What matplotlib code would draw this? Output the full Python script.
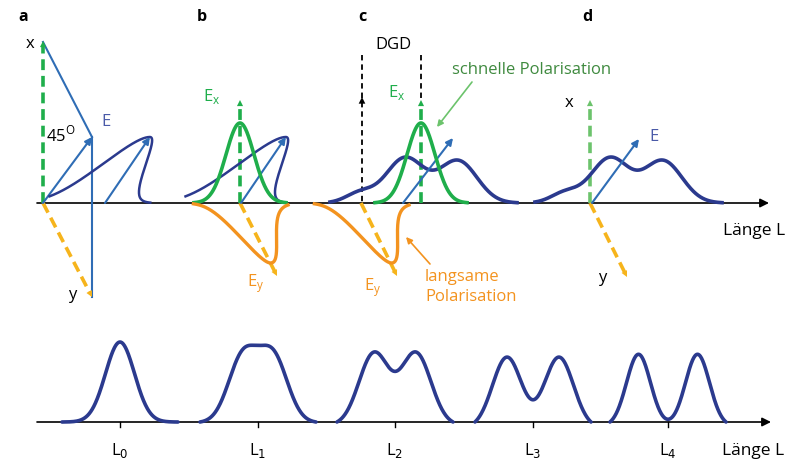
import numpy as np
import matplotlib.pyplot as plt

plt.rcParams['font.family'] = ['Open Sans', 'DejaVu Sans']

NAVY = '#2b3a8e'
BLUE = '#2f6db5'
GREEN = '#1fae4b'
GREEN_LIGHT = '#6cc36c'
ORANGE = '#f3931f'
YELLOW = '#f6b41c'
TEXT_GREEN = '#3f8a3f'

base_top = 203
base_bottom = 422

# bottom row: pulse shape after each fibre length
tick_x = [120, 258, 395, 533, 668]
tick_labels = ['L$_0$', 'L$_1$', 'L$_2$', 'L$_3$', 'L$_4$']
mode_split = [0, 30, 42, 52, 59]
mode_sigma = [14.5, 14.5, 15, 14.5, 12]
mode_amp = [40, 66, 72, 71, 72]

# panels a and b: launched pulse, polarised at 45 degrees (drawn tilted)
tilt_center = [105, 241]
tilt_amp = 66
tilt_sigma = (28, 14)      # rising / falling edge
tilt_skew = 0.68

# fast (x) and slow (y) components, panels b and c
ex_center = [240, 421]
ex_amp = 80
ex_sigma = 14
ey_center = [240, 361]
ey_amp = 60
ey_sigma = (16, 18)
ey_skew = 0.51

# broadened pulse, panels c and d
hump_center_c = [360, 405, 458]
hump_center_d = [565, 610, 663]
hump_amp = [10, 45, 42]
hump_sigma = [14, 19, 19]


def gauss(x, c, s):
    return np.exp(-(x - c) ** 2 / (2 * s ** 2))


def skew_gauss(x, c, s_left, s_right):
    s = np.where(x < c, s_left, s_right)
    return np.exp(-(x - c) ** 2 / (2 * s ** 2))


def head(ax, x0, y0, x1, y1, color, size=11):
    # filled arrow head only, pointing from (x0, y0) to (x1, y1)
    d = np.hypot(x1 - x0, y1 - y0)
    ux, uy = (x1 - x0) / d, (y1 - y0) / d
    ax.annotate('', xy=(x1, y1), xytext=(x1 - 6 * ux, y1 - 6 * uy),
                arrowprops=dict(arrowstyle='-|>', color=color, lw=0,
                                mutation_scale=size, shrinkA=0, shrinkB=0))


def dashed_arrow(ax, x0, y0, x1, y1, color, lw=2.6, dashes=(3, 1.6), size=11):
    d = np.hypot(x1 - x0, y1 - y0)
    ux, uy = (x1 - x0) / d, (y1 - y0) / d
    ax.plot([x0, x1 - 5 * ux], [y0, y1 - 5 * uy], color=color, lw=lw,
            ls=(0, dashes), solid_capstyle='butt', dash_capstyle='butt')
    head(ax, x0, y0, x1, y1, color, size)


def solid_arrow(ax, x0, y0, x1, y1, color=BLUE, lw=1.5):
    ax.annotate('', xy=(x1, y1), xytext=(x0, y0),
                arrowprops=dict(arrowstyle='-|>', color=color, lw=lw,
                                mutation_scale=10, shrinkA=0, shrinkB=0))


fig = plt.figure(figsize=(7.95, 4.62), dpi=100)
ax = fig.add_axes([0, 0, 1, 1])
ax.set_xlim(0, 795)
ax.set_ylim(462, 0)
ax.axis('off')

# axes
ax.annotate('', xy=(769, base_top), xytext=(37, base_top),
            arrowprops=dict(arrowstyle='-|>', color='black', lw=1.2,
                            mutation_scale=13, shrinkA=0, shrinkB=0), zorder=1)
ax.annotate('', xy=(771, base_bottom), xytext=(37, base_bottom),
            arrowprops=dict(arrowstyle='-|>', color='black', lw=1.2,
                            mutation_scale=13, shrinkA=0, shrinkB=0), zorder=1)
ax.text(754, 231, 'Länge L', fontsize=12.5, ha='center', va='center')
ax.text(753, 451, 'Länge L', fontsize=12.5, ha='center', va='center')

# bottom row pulses, trimmed so the flanks land on the axis
half = 58
for xc, d, s, a, lab in zip(tick_x, mode_split, mode_sigma, mode_amp, tick_labels):
    xx = np.linspace(xc - half, xc + half, 300)
    yy = a * (gauss(xx, xc - d / 2, s) + gauss(xx, xc + d / 2, s))
    yy = np.clip(yy - yy[0], 0, None)
    ax.plot(xx, base_bottom - yy, color=NAVY, lw=2.6, solid_capstyle='round', zorder=3)
    ax.plot([xc, xc], [base_bottom, base_bottom + 5], color='black', lw=1)
    ax.text(xc, 451, lab, fontsize=12, ha='center', va='center')

# panel labels
for x, lab in zip([23, 202, 362, 587], 'abcd'):
    ax.text(x, 17, lab, fontsize=11.5, fontweight='bold', ha='center', va='center')

# panel a: polarisation frame
ax.plot([43, 92], [42, 137], color=BLUE, lw=1.5)
ax.plot([92, 92], [137, 297], color=BLUE, lw=1.5)
dashed_arrow(ax, 43, base_top, 43, 41, GREEN)
dashed_arrow(ax, 43, base_top, 92, 297, YELLOW)
solid_arrow(ax, 43, base_top, 92, 137)
ax.text(30, 44, 'x', fontsize=12, ha='center', va='center')
ax.text(72, 295, 'y', fontsize=12, ha='center', va='center')
ax.text(106, 122, 'E', fontsize=12, color='#4a5aa8', ha='center', va='center')
ax.text(61, 135, '45$^\\mathregular{O}$', fontsize=12, ha='center', va='center')

# tilted launched pulse (panels a and b)
for c in tilt_center:
    ll = np.linspace(c - 60, c + 45, 400)
    g = tilt_amp * skew_gauss(ll, c, *tilt_sigma)
    ax.plot(ll + tilt_skew * g, base_top - g, color=NAVY, lw=1.8, zorder=3)
    solid_arrow(ax, c, base_top, c + tilt_skew * tilt_amp, base_top - tilt_amp)

# fast and slow components
for c in ex_center:
    xx = np.linspace(c - 46, c + 46, 300)
    ax.plot(xx, base_top - ex_amp * gauss(xx, c, ex_sigma), color=GREEN, lw=2.6, zorder=4)
for c in ey_center:
    ll = np.linspace(c - 47, c + 47, 400)
    g = ey_amp * skew_gauss(ll, c, *ey_sigma)
    ax.plot(ll + ey_skew * g, base_top + g, color=ORANGE, lw=2.4, zorder=4)

# panel b vectors
dashed_arrow(ax, 240, base_top, 240, 100, GREEN)
dashed_arrow(ax, 240, base_top, 277, 276, YELLOW)
ax.text(212, 96, 'E$_\\mathregular{x}$', fontsize=12, color=GREEN, ha='center', va='center')
ax.text(256, 284, 'E$_\\mathregular{y}$', fontsize=12, color=ORANGE, ha='center', va='center')

# panel c: differential group delay
ax.plot([362, 362], [55, base_top], color='black', lw=1.3, ls=(0, (3, 2.2)))
head(ax, 362, base_top, 362, 97, 'black', size=12)
ax.plot([421, 421], [55, 104], color='black', lw=1.3, ls=(0, (3, 2.2)))
dashed_arrow(ax, 421, base_top, 421, 100, GREEN)
dashed_arrow(ax, 361, base_top, 397, 276, YELLOW)
ax.text(393, 45, 'DGD', fontsize=12, ha='center', va='center')
ax.text(397, 92, 'E$_\\mathregular{x}$', fontsize=12, color=GREEN, ha='center', va='center')
ax.text(373, 288, 'E$_\\mathregular{y}$', fontsize=12, color=ORANGE, ha='center', va='center')

# broadened pulse in c and d
for centers in (hump_center_c, hump_center_d):
    xx = np.linspace(centers[0] - 30, centers[-1] + 59, 400)
    yy = sum(a * gauss(xx, c, s) for c, a, s in zip(centers, hump_amp, hump_sigma))
    ax.plot(xx, base_top - yy, color=NAVY, lw=2.6, zorder=3)
solid_arrow(ax, 403, base_top, 453, 138)

ax.text(532, 70, 'schnelle Polarisation', fontsize=12, color=TEXT_GREEN, ha='center', va='center')
ax.annotate('', xy=(437, 127), xytext=(472, 82),
            arrowprops=dict(arrowstyle='-|>', color=GREEN_LIGHT, lw=1.2,
                            mutation_scale=9, shrinkA=0, shrinkB=0))
ax.text(425, 277, 'langsame', fontsize=12, color=ORANGE, ha='left', va='center')
ax.text(425, 297, 'Polarisation', fontsize=12, color=ORANGE, ha='left', va='center')
ax.annotate('', xy=(406, 237), xytext=(430, 264),
            arrowprops=dict(arrowstyle='-|>', color=ORANGE, lw=1.2,
                            mutation_scale=9, shrinkA=0, shrinkB=0))

# panel d
dashed_arrow(ax, 590, base_top, 590, 100, GREEN_LIGHT)
dashed_arrow(ax, 590, base_top, 627, 277, YELLOW)
solid_arrow(ax, 592, base_top, 639, 139)
ax.text(569, 103, 'x', fontsize=12, ha='center', va='center')
ax.text(602, 278, 'y', fontsize=12, ha='center', va='center')
ax.text(654, 137, 'E', fontsize=12, color='#4a5aa8', ha='center', va='center')

fig.savefig('out.png', dpi=100)
